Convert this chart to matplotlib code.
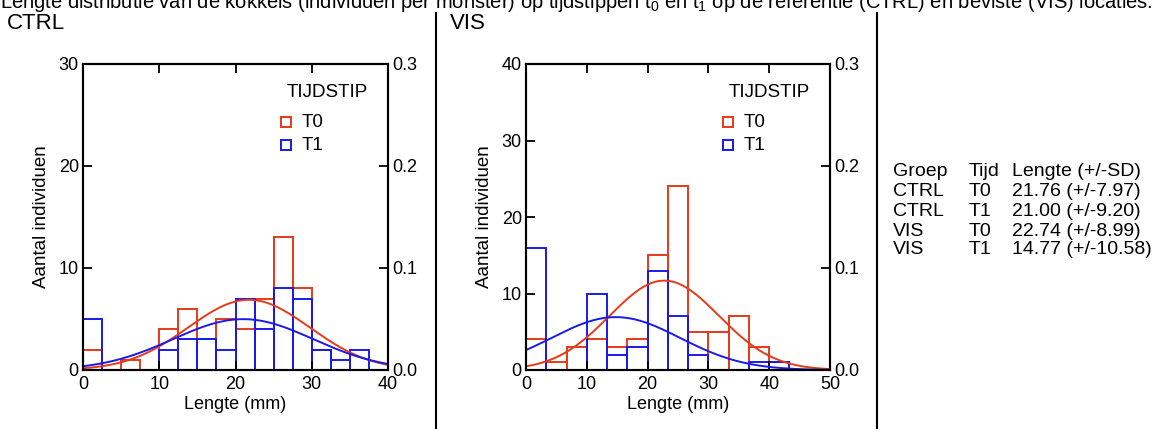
import numpy as np
import matplotlib
matplotlib.use("Agg")
import matplotlib.pyplot as plt

plt.rcParams["font.family"] = ["Liberation Sans", "DejaVu Sans"]
plt.rcParams["mathtext.fontset"] = "custom"
plt.rcParams["mathtext.rm"] = "Liberation Sans"
plt.rcParams["mathtext.it"] = "Liberation Sans:italic"

# ---- data ----
groups = ["CTRL", "VIS"]
ctrl_bin_width = 2.5
ctrl_bin_left = np.arange(0, 40, ctrl_bin_width)
ctrl_t0 = [2, 0, 1, 0, 4, 6, 3, 5, 4, 7, 13, 8, 2, 0, 0, 0]
ctrl_t1 = [5, 0, 0, 0, 2, 3, 3, 2, 7, 4, 8, 7, 2, 1, 2, 0]

vis_bin_width = 50 / 15
vis_bin_left = np.arange(15) * vis_bin_width
vis_t0 = [4, 1, 3, 4, 3, 4, 15, 24, 5, 5, 7, 3, 1, 0, 0]
vis_t1 = [16, 0, 0, 10, 2, 3, 13, 7, 2, 0, 0, 1, 1, 0, 0]

# summary table
tab_groep = ["CTRL", "CTRL", "VIS", "VIS"]
tab_tijd = ["T0", "T1", "T0", "T1"]
tab_mean = [21.76, 21.00, 22.74, 14.77]
tab_sd = [7.97, 9.20, 8.99, 10.58]

RED = "#E8391A"
BLUE = "#1A1AE8"

W, H = 1155, 429
fig = plt.figure(figsize=(W / 100, H / 100), dpi=100)


def normal_counts(x, mean, sd, n, bw):
    return n * bw * np.exp(-0.5 * ((x - mean) / sd) ** 2) / (sd * np.sqrt(2 * np.pi))


def panel(left_px, right_px, xmax, ymax, xticks, yticks, bin_left, bw, c0, c1, stats0, stats1):
    top_px, bot_px = 64, 370
    ax = fig.add_axes([left_px / W, 1 - bot_px / H, (right_px - left_px) / W, (bot_px - top_px) / H])
    ax.bar(bin_left, c0, width=bw, align="edge", fill=False, edgecolor=RED, linewidth=1.4, zorder=1)
    ax.bar(bin_left, c1, width=bw, align="edge", fill=False, edgecolor=BLUE, linewidth=1.4, zorder=1.1)
    xs = np.linspace(0, xmax, 300)
    ax.plot(xs, normal_counts(xs, stats0[0], stats0[1], sum(c0), bw), color=RED, lw=1.4, zorder=2)
    ax.plot(xs, normal_counts(xs, stats1[0], stats1[1], sum(c1), bw), color=BLUE, lw=1.4, zorder=2.1)
    ax.set_xlim(0, xmax)
    ax.set_ylim(0, ymax)
    ax.set_xticks(xticks)
    ax.set_yticks(yticks)
    for s in ax.spines.values():
        s.set_linewidth(1.5)
    ax.tick_params(direction="in", length=6.5, width=1.3, labelsize=13, top=True, right=False)
    ax.tick_params(axis="x", pad=4.5)
    ax.tick_params(axis="y", pad=3)
    ax.set_xlabel("Lengte (mm)", fontsize=13, labelpad=2)
    ax.set_ylabel("Aantal individuen", fontsize=13.5, labelpad=6)

    ax2 = ax.twinx()
    ax2.set_ylim(0, 0.3)
    ax2.set_yticks([0.0, 0.1, 0.2, 0.3])
    ax2.set_yticklabels(["0.0", "0.1", "0.2", "0.3"])
    ax2.tick_params(direction="in", length=6.5, width=1.3, labelsize=13, pad=3)
    for s in ax2.spines.values():
        s.set_linewidth(1.5)

    # legend
    ax.text(0.80, 0.908, "TIJDSTIP", transform=ax.transAxes, ha="center", va="center", fontsize=13.5)
    for yy, lab, col in [(0.809, "T0", RED), (0.735, "T1", BLUE)]:
        ax.plot([0.666], [yy], marker="s", ms=6.5, mfc="none", mec=col, mew=1.4,
                transform=ax.transAxes, clip_on=False)
        ax.text(0.716, yy, lab, transform=ax.transAxes, ha="left", va="center", fontsize=13.5)
    return ax


panel(83, 388, 40, 30, [0, 10, 20, 30, 40], [0, 10, 20, 30], ctrl_bin_left, ctrl_bin_width,
      ctrl_t0, ctrl_t1, (tab_mean[0], tab_sd[0]), (tab_mean[1], tab_sd[1]))
panel(526, 830, 50, 40, [0, 10, 20, 30, 40, 50], [0, 10, 20, 30, 40], vis_bin_left, vis_bin_width,
      vis_t0, vis_t1, (tab_mean[2], tab_sd[2]), (tab_mean[3], tab_sd[3]))

# title line (cut off at top in the reference)
fig.text(0.0, 1 - 8 / H,
         "Lengte distributie van de kokkels (individuen per monster) op tijdstippen t$_0$ en t$_1$ "
         "op de referentie (CTRL) en beviste (VIS) locaties.",
         ha="left", va="baseline", fontsize=14.5)

fig.text(7 / W, 1 - 29 / H, groups[0], ha="left", va="baseline", fontsize=16)
fig.text(450 / W, 1 - 29 / H, groups[1], ha="left", va="baseline", fontsize=16)

# separators
for xp in (435.5, 876.5):
    fig.add_artist(plt.Line2D([xp / W, xp / W], [0, 1 - 13 / H], color="black", lw=1.5))

# table
cols_x = [893, 969, 1012]
rows_y = [171, 191, 211, 231, 250]
hdr = ["Groep", "Tijd", "Lengte (+/-SD)"]
for cx, t in zip(cols_x, hdr):
    fig.text(cx / W, 1 - rows_y[0] / H, t, ha="left", va="center", fontsize=14)
for i in range(4):
    yy = 1 - rows_y[i + 1] / H
    fig.text(cols_x[0] / W, yy, tab_groep[i], ha="left", va="center", fontsize=14)
    fig.text(cols_x[1] / W, yy, tab_tijd[i], ha="left", va="center", fontsize=14)
    fig.text(cols_x[2] / W, yy, f"{tab_mean[i]:.2f} (+/-{tab_sd[i]:.2f})", ha="left", va="center", fontsize=14)

fig.savefig("out.png", dpi=100)
